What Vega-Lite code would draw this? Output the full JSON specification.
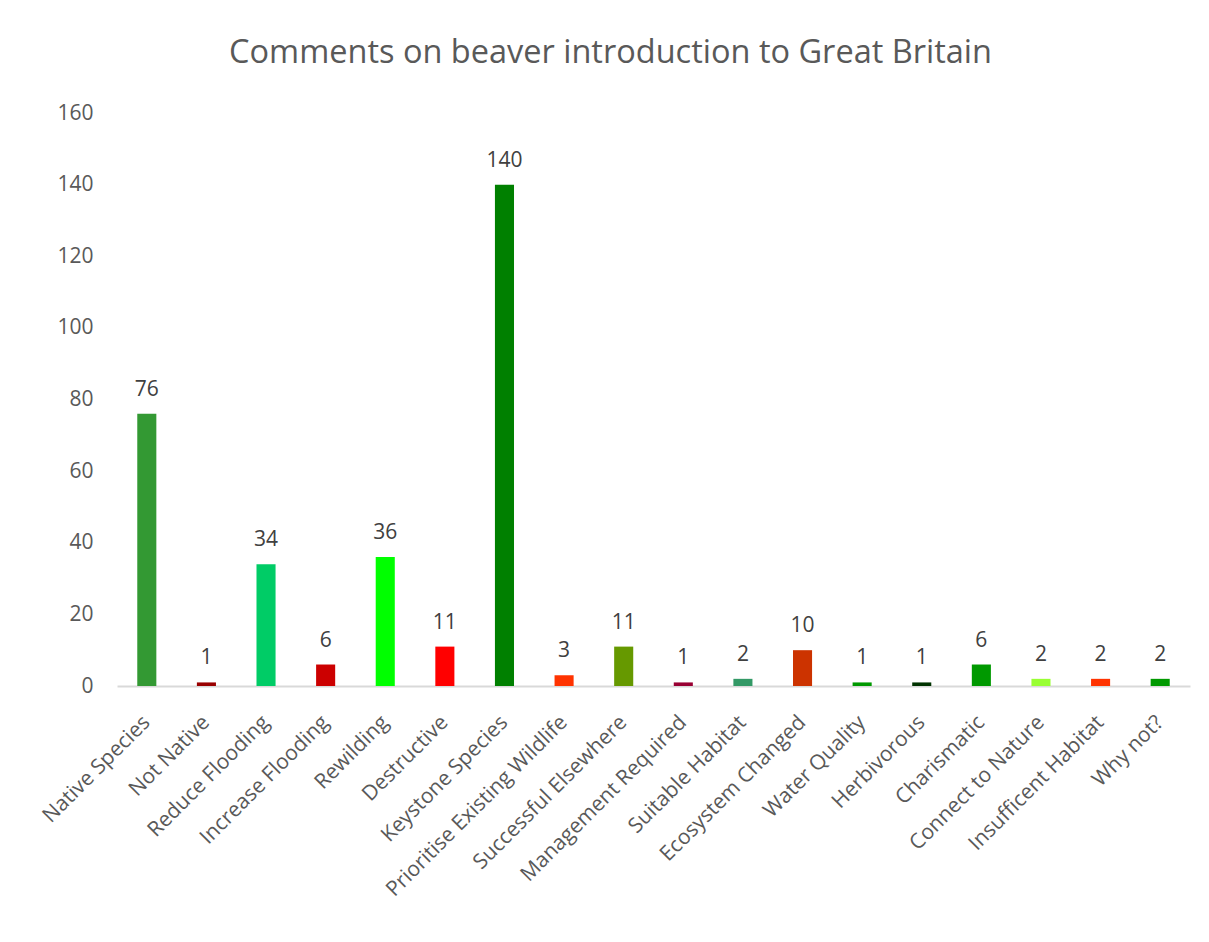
{
  "$schema": "https://vega.github.io/schema/vega-lite/v6.json",
  "autosize": "none",
  "padding": {"left": 117, "top": 113, "right": 19, "bottom": 256},
  "width": 1073,
  "height": 573,
  "background": "white",
  "title": {
    "text": "Comments on beaver introduction to Great Britain",
    "font": "Open Sans",
    "fontSize": 32.5,
    "fontWeight": "normal",
    "color": "#595959",
    "anchor": "middle",
    "frame": "group",
    "offset": 33,
    "dx": -43
  },
  "data": {
    "values": [
      {"category": "Native Species", "count": 76, "color": "#339933"},
      {"category": "Not Native", "count": 1, "color": "#990000"},
      {"category": "Reduce Flooding", "count": 34, "color": "#00CC66"},
      {"category": "Increase Flooding", "count": 6, "color": "#CC0000"},
      {"category": "Rewilding", "count": 36, "color": "#00FF00"},
      {"category": "Destructive", "count": 11, "color": "#FF0000"},
      {"category": "Keystone Species", "count": 140, "color": "#008000"},
      {"category": "Prioritise Existing Wildlife", "count": 3, "color": "#FF3300"},
      {"category": "Successful Elsewhere", "count": 11, "color": "#669900"},
      {"category": "Management Required", "count": 1, "color": "#990033"},
      {"category": "Suitable Habitat", "count": 2, "color": "#339966"},
      {"category": "Ecosystem Changed", "count": 10, "color": "#CC3300"},
      {"category": "Water Quality", "count": 1, "color": "#009900"},
      {"category": "Herbivorous", "count": 1, "color": "#003300"},
      {"category": "Charismatic", "count": 6, "color": "#009900"},
      {"category": "Connect to Nature", "count": 2, "color": "#99FF33"},
      {"category": "Insufficent Habitat", "count": 2, "color": "#FF3300"},
      {"category": "Why not?", "count": 2, "color": "#009900"}
    ]
  },
  "encoding": {
    "x": {
      "field": "category",
      "type": "nominal",
      "sort": null,
      "scale": {"paddingInner": 0.68, "paddingOuter": 0.34},
      "axis": {
        "title": null,
        "labelAngle": -45,
        "labelAlign": "right",
        "labelBaseline": "middle",
        "labelFont": "Open Sans",
        "labelFontSize": 21,
        "labelColor": "#595959",
        "labelPadding": 33,
        "labelOffset": 0,
        "labelLimit": 400,
        "labelOverlap": false,
        "ticks": false,
        "domainColor": "#D9D9D9",
        "domainWidth": 2
      }
    },
    "y": {
      "field": "count",
      "type": "quantitative",
      "scale": {"domain": [0, 160], "nice": false},
      "axis": {
        "title": null,
        "values": [0, 20, 40, 60, 80, 100, 120, 140, 160],
        "grid": false,
        "domain": false,
        "ticks": false,
        "labelFont": "Open Sans",
        "labelFontSize": 21,
        "labelColor": "#595959",
        "labelPadding": 24
      }
    }
  },
  "layer": [
    {
      "mark": {"type": "bar"},
      "encoding": {
        "color": {"field": "color", "type": "nominal", "scale": null}
      }
    },
    {
      "mark": {
        "type": "text",
        "baseline": "alphabetic",
        "dy": -18,
        "font": "Open Sans",
        "fontSize": 21,
        "color": "#404040"
      },
      "encoding": {
        "text": {"field": "count", "type": "quantitative"}
      }
    }
  ],
  "config": {"view": {"stroke": null}}
}
